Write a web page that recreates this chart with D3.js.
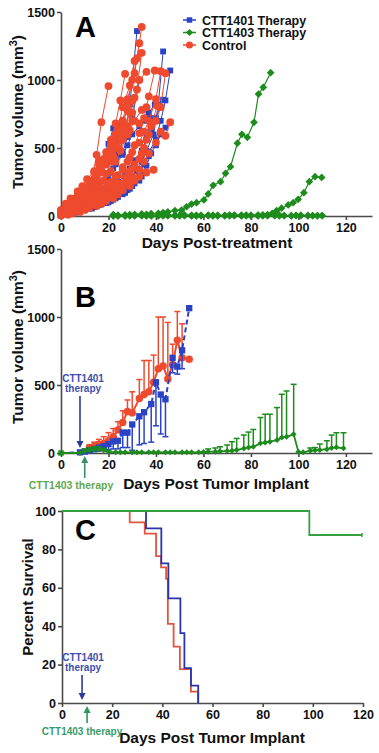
<!DOCTYPE html>
<html><head><meta charset="utf-8">
<script src="https://cdn.jsdelivr.net/npm/d3@7"></script>
<style>
body{margin:0;background:#fff}
svg{display:block}
text{font-family:"Liberation Sans",Arial,sans-serif;font-weight:bold}
</style>
</head><body><svg id="c" width="379" height="753"></svg>
<script>
// ---------------- DATA ----------------
const xTicks = [0,20,40,60,80,100,120];
const yTicksVol = [0,500,1000,1500];
const yTicksSurv = [0,20,40,60,80,100];
const legendLabels = ["CTT1401 Therapy","CTT1403 Therapy","Control"];
const therapyDay1401 = 8;
const therapyDay1403 = 10;

// Panel A individual mice: [day, volume]
const controlMice = [
 [[0,20],[2,40],[5,65],[7,90],[9,120],[12,150],[14,190],[16,240],[19,310],[21,400],[23,500],[26,650],[28,820],[30,1000],[32,1160],[34,1390]],
 [[0,30],[3,55],[5,85],[7,120],[10,160],[12,200],[14,250],[17,320],[19,400],[21,470],[24,580],[26,700],[28,860],[31,1050],[33,1270]],
 [[0,10],[2,25],[4,45],[7,70],[9,95],[11,130],[14,165],[16,210],[18,260],[21,330],[23,400],[25,480],[28,600],[30,760],[32,930],[34,1200]],
 [[0,25],[3,50],[5,80],[8,110],[10,150],[12,200],[15,260],[17,340],[19,420],[22,520],[24,640],[26,800],[29,960],[31,1140]],
 [[0,5],[2,30],[4,60],[6,100],[8,130],[11,190],[13,260],[15,450],[17,690],[20,955]],
 [[0,35],[2,70],[5,110],[7,150],[9,200],[12,260],[14,320],[16,400],[19,470],[21,560],[23,680],[25,850],[27,1045]],
 [[0,15],[3,30],[5,45],[8,60],[10,80],[12,100],[15,130],[17,160],[19,200],[22,250],[24,300],[26,360],[29,430],[31,520],[33,610],[35,720],[37,880],[39.5,1070]],
 [[0,20],[2,35],[5,50],[7,70],[9,90],[12,110],[14,140],[16,170],[19,210],[21,250],[23,290],[26,340],[28,400],[30,470],[33,540],[35,620],[37,700],[40,860],[42,1065]],
 [[0,5],[3,15],[5,30],[8,50],[10,70],[13,90],[15,110],[17,140],[20,170],[22,200],[24,240],[27,280],[29,330],[31,380],[34,460],[36,560],[38,660],[40.5,810]],
 [[0,15],[2,30],[5,45],[7,60],[9,75],[12,90],[14,110],[16,130],[19,150],[21,170],[23,190],[26,220],[28,250],[30,290],[33,340],[35,400],[37,460],[40,540],[42,620],[44,590],[46,690]],
 [[0,30],[3,60],[6,100],[8,140],[10,180],[13,230],[15,280],[17,350],[20,420],[22,500],[24,560],[27,650],[29,760],[31,870],[33,1000],[36,1060]],
 [[0,20],[2,45],[5,80],[7,120],[9,160],[12,210],[14,270],[16,340],[19,430],[21,520],[23,600],[26,700],[28,780],[30,850]],
 [[0,5],[3,10],[5,20],[8,30],[10,45],[12,60],[15,75],[17,90],[19,110],[22,130],[24,160],[26,190],[29,220],[31,260],[33,290],[36,320],[39,340]],
 [[0,25],[2,50],[4,80],[7,110],[9,150],[11,200],[14,260],[16,330],[18,400],[21,470],[23,540],[25,600],[28,660],[30,700],[33,680]],
 [[0,40],[3,80],[5,120],[8,160],[10,200],[12,240],[15,280],[17,330],[19,380],[22,440],[24,500],[26,560],[29,630],[31,700],[34,780],[36,800]],
 [[0,10],[2,20],[5,35],[7,50],[9,65],[12,80],[14,100],[16,120],[19,140],[21,170],[23,200],[26,240],[28,290],[30,350],[33,420],[35,500],[37,600],[40,700],[42,800],[44,1050]],
 [[0,45],[2,90],[4,130],[7,180],[9,220],[11,270],[14,330],[16,380],[18,420],[21,480],[23,520],[25,560],[28,600]]
];
const ctt1401Mice = [
 [[0,10],[3,25],[5,40],[8,60],[10,85],[13,110],[15,150],[17,200],[20,270],[22,350],[24,450],[27,600],[29,820],[32,1360]],
 [[0,5],[3,15],[6,25],[8,40],[11,55],[13,70],[15,90],[18,110],[20,130],[22,160],[25,190],[27,230],[29,270],[32,330],[34,400],[36,480],[39,600],[41,820],[43,1210]],
 [[0,10],[2,20],[5,30],[7,40],[9,50],[12,60],[14,80],[16,100],[19,120],[21,150],[23,180],[26,210],[28,250],[30,290],[33,340],[35,400],[37,470],[40,560],[42,700],[44,850],[46,1070]],
 [[0,15],[3,30],[5,45],[8,60],[10,80],[13,100],[15,120],[17,150],[20,180],[22,210],[24,250],[27,300],[29,350],[31,410],[34,480],[36,560],[38,620],[40,720],[43,855]],
 [[0,20],[2,40],[5,60],[7,80],[9,110],[12,140],[14,180],[16,220],[19,270],[21,320],[23,380],[26,450],[28,520],[30,600],[33,660],[35,700],[37,760],[39.5,820]],
 [[0,5],[3,10],[5,20],[8,35],[10,50],[13,65],[15,80],[17,100],[20,130],[22,160],[24,200],[27,250],[29,300],[31,360],[34,450],[36,580],[37.5,720]],
 [[0,10],[2,20],[5,30],[7,45],[9,60],[12,75],[14,90],[16,110],[19,130],[21,150],[23,170],[26,200],[28,230],[30,270],[33,320],[35,380],[37,440],[40,520],[42,600],[44,650]],
 [[0,20],[3,40],[5,70],[8,100],[10,140],[13,200],[15,270],[17,410],[20,530],[22,645],[24,680]],
 [[0,15],[2,30],[5,50],[7,75],[9,100],[12,130],[14,170],[16,210],[19,260],[21,320],[23,390],[26,470],[28,580],[30,720],[33,1000]],
 [[0,5],[3,15],[5,25],[8,35],[10,45],[13,55],[15,70],[17,85],[20,100],[22,120],[24,140],[27,170],[29,200],[31,240],[34,290],[36,370],[38,460]],
 [[0,10],[2,15],[5,25],[7,35],[9,45],[12,55],[14,65],[16,80],[19,95],[21,110],[23,130],[26,160],[28,190],[30,220],[33,260],[35,320]]
];
const ctt1403Mice = [
 [[22,10],[24,5],[27,8],[29,10],[31,12],[34,15],[36,12],[38,18],[41,20],[43,25],[45,30],[48,40],[50.8,44],[52.9,68],[55,88],[57.1,98],[60.2,118],[62,162],[64.1,226],[67.2,252],[69.3,314],[71.4,363],[74.3,535],[76.2,601],[78.5,579],[81.3,689],[83.2,897],[85.2,946],[88.3,1054]],
 [[22,0],[24,3],[27,2],[29,5],[31,3],[34,4],[36,2],[38,5],[41,3],[43,6],[45,4],[48,5],[50,3],[52,6],[55,4],[57,5],[59,3],[62,6],[64,4],[66,5],[69,3],[71,6],[73,5],[76,4],[78,6],[80,5],[83,7],[85,8],[87,10],[89,20],[90.8,39],[92.9,57],[95.7,81],[97.8,98],[99.9,123],[102.3,171],[104.6,252],[107,289],[109.8,284]]
];
const flatDays = [22,24,27,29,31,34,36,38,41,43,45,48,50,52,55,57,59,62,64,66,69,71,73,76,78,80,83,85,87,90,92,94,97,99,101,104,106,108,110];
const flatVolsA = [2,0,3,1,4,2,3,0,2,5,3,1,4,2,3,0,2,4,1,3,2,5,3,1,2,4,0,3,2,5,1,3,2,4,3,1,2,3,2];
const flatVolsB = [5,3,1,4,2,6,3,2,5,1,4,3,2,6,1,3,5,2,4,1,3,2,6,4,3,1,5,2,4,3,6,2,1,3,5,4,2,1,3];

// Panel B group means
const ctrlDays  = [12,14,16,18,20,22,24,26,28,30,33,35,37,39,41,43,45,47,49,51,54];
const ctrlMean  = [40,50,65,70,90,120,170,225,305,295,400,430,450,520,620,640,545,650,830,700,690];
const ctrlUpper = [60,80,100,120,150,180,230,310,390,450,540,680,680,720,1000,1000,960,800,1040,950,null];
const t1401Days  = [0,8,10,12,14,16,18,20,22,24,26,28,30,33,35,38,40,42,44,47,49,51,54];
const t1401Mean  = [0,5,10,20,30,40,50,65,85,90,150,150,210,270,300,360,520,430,395,700,635,755,1065];
const t1401Lower = [null,null,null,5,10,15,20,25,30,30,40,40,20,60,70,80,200,140,120,590,580,620,null];
const t1403Days  = [0,8,10,12,14,16,18,20,23,25,27,30,32,34,37,39,41,44,46,48,51,53,55,58,60,62,65,67,70,72,74,77,79,81,84,86,88,91,93,95,98,100,102,105,107,109,112,114,116,119];
const t1403Mean  = [0,0,15,20,25,25,20,10,5,5,5,5,5,5,5,5,5,5,5,5,5,5,5,5,8,10,10,12,15,17,22,34,41,46,71,78,83,95,114,119,137,10,5,17,20,22,28,37,42,35];
const t1403Upper = [null,null,30,40,45,45,35,15,null,null,null,null,null,null,null,null,null,null,null,null,null,null,null,null,null,30,37,46,59,83,107,132,154,173,261,285,285,334,432,456,505,null,null,37,40,66,90,132,149,149];

// Panel C survival (Kaplan-Meier): [day, percent]
const survCtrl = [[0,100],[27,94.1],[33,88.2],[37.5,76.5],[39.5,70.6],[41.5,64.7],[42.2,41.2],[44.5,29.4],[47,17.6],[51.4,5.9],[54.3,0]];
const surv1401 = [[0,100],[33.5,90.9],[39.6,72.7],[42.4,54.5],[47.2,36.4],[48.8,18.2],[51.4,9.1],[54.3,0]];
const surv1403 = [[0,100],[98.6,87.5],[119.6,87.5]];

// ---------------- STYLE ----------------
const BLUE="#2a43c6", GREEN="#1d8c1d", RED="#ee4a2e";
const svg = d3.select("#c");

function axes(x, y, xt, yt, yAxisX, xAxisY) {
  const gx = svg.append("g").attr("transform",`translate(0,${xAxisY})`)
    .call(d3.axisBottom(x).tickValues(xt).tickFormat(d3.format("d")).tickSize(4).tickSizeOuter(0).tickPadding(3));
  const gy = svg.append("g").attr("transform",`translate(${yAxisX},0)`)
    .call(d3.axisLeft(y).tickValues(yt).tickFormat(d3.format("d")).tickSize(4).tickSizeOuter(0).tickPadding(2));
  [gx,gy].forEach(g=>{
    g.selectAll("path,line").attr("stroke","#4a4a4a").attr("stroke-width",1.6);
    g.selectAll("text").attr("fill","#111").style("font-size","12.5px").style("font-weight","bold")
      .style("font-family","'Liberation Sans',Arial,sans-serif");
  });
  return [gx,gy];
}
const sym = (type,size)=>d3.symbol().type(type).size(size)();
function drawMarkers(g, pts, x, y, kind, color, sz) {
  g.selectAll(null).data(pts).enter().append("path")
   .attr("d", kind==="circle"?sym(d3.symbolCircle,sz):sym(d3.symbolSquare,sz))
   .attr("transform", d=>`translate(${x(d[0])},${y(d[1])})`+(kind==="diamond"?" rotate(45)":""))
   .attr("fill",color);
}

// ---------------- PANEL A ----------------
const xA = d3.scaleLinear().domain([0,131]).range([61,372]);
const yA = d3.scaleLinear().domain([0,1500]).range([216,12]);
axes(xA,yA,xTicks,yTicksVol,61,216);
const lineA = d3.line().x(d=>xA(d[0])).y(d=>yA(d[1]));
const gA = svg.append("g");
const flatMice = [flatDays.map((d,i)=>[d,flatVolsA[i]]), flatDays.map((d,i)=>[d,flatVolsB[i]])];
[...flatMice, ...ctt1403Mice].forEach(m=>{
  gA.append("path").attr("d",lineA(m)).attr("fill","none").attr("stroke",GREEN).attr("stroke-width",1.2);
  drawMarkers(gA,m,xA,yA,"diamond",GREEN,30);
});
ctt1401Mice.forEach(m=>{
  gA.append("path").attr("d",lineA(m)).attr("fill","none").attr("stroke",BLUE).attr("stroke-width",1);
  drawMarkers(gA,m,xA,yA,"square",BLUE,34);
});
controlMice.forEach(m=>{
  gA.append("path").attr("d",lineA(m)).attr("fill","none").attr("stroke",RED).attr("stroke-width",1);
  drawMarkers(gA,m,xA,yA,"circle",RED,48);
});
// legend
const legColors=[BLUE,GREEN,RED], legKinds=["square","diamond","circle"];
legendLabels.forEach((lab,i)=>{
  const yy = 20 + i*12.5;
  svg.append("line").attr("x1",183).attr("x2",196).attr("y1",yy).attr("y2",yy).attr("stroke",legColors[i]).attr("stroke-width",1.5);
  svg.append("path").attr("d", legKinds[i]==="circle"?sym(d3.symbolCircle,40):sym(d3.symbolSquare,legKinds[i]==="diamond"?26:30))
    .attr("transform",`translate(189.5,${yy})`+(legKinds[i]==="diamond"?" rotate(45)":"")).attr("fill",legColors[i]);
  svg.append("text").attr("x",202).attr("y",yy+4.5).style("font-size","12.5px").attr("fill","#111").text(lab);
});
svg.append("text").attr("x",75).attr("y",37).style("font-size","29px").attr("fill","#000").text("A");
svg.append("text").attr("transform","translate(23,112) rotate(-90)").attr("text-anchor","middle")
  .style("font-size","15.5px").attr("fill","#111")
  .call(t=>{t.append("tspan").text("Tumor volume (mm");t.append("tspan").attr("dy",-6).style("font-size","11px").text("3");t.append("tspan").attr("dy",6).text(")");});
svg.append("text").attr("x",217).attr("y",248).attr("text-anchor","middle").style("font-size","15.5px").attr("fill","#111").text("Days Post-treatment");

// ---------------- PANEL B ----------------
const xB = d3.scaleLinear().domain([0,131]).range([61,372]);
const yB = d3.scaleLinear().domain([0,1500]).range([453,249]);
axes(xB,yB,xTicks,yTicksVol,61,453);
const gB = svg.append("g");
const lineB = d3.line().x(d=>xB(d[0])).y(d=>yB(d[1]));
function errBars(days, mean, bound, color, w) {
  days.forEach((d,i)=>{
    if (bound[i]==null) return;
    const x = xB(d);
    gB.append("line").attr("x1",x).attr("x2",x).attr("y1",yB(mean[i])).attr("y2",yB(bound[i])).attr("stroke",color).attr("stroke-width",w);
    gB.append("line").attr("x1",x-3).attr("x2",x+3).attr("y1",yB(bound[i])).attr("y2",yB(bound[i])).attr("stroke",color).attr("stroke-width",w);
  });
}
const ctrlPts = ctrlDays.map((d,i)=>[d,ctrlMean[i]]);
const t1401Pts = t1401Days.map((d,i)=>[d,t1401Mean[i]]);
const t1403Pts = t1403Days.map((d,i)=>[d,t1403Mean[i]]);
errBars(ctrlDays,ctrlMean,ctrlUpper,RED,1.5);
gB.append("path").attr("d",lineB(ctrlPts)).attr("fill","none").attr("stroke",RED).attr("stroke-width",2);
drawMarkers(gB,ctrlPts,xB,yB,"circle",RED,44);
errBars(t1401Days,t1401Mean,t1401Lower,BLUE,1.5);
gB.append("path").attr("d",lineB(t1401Pts)).attr("fill","none").attr("stroke",BLUE).attr("stroke-width",2).attr("stroke-dasharray","5,3");
drawMarkers(gB,t1401Pts.slice(1),xB,yB,"square",BLUE,40);
errBars(t1403Days,t1403Mean,t1403Upper,GREEN,1.5);
gB.append("path").attr("d",lineB(t1403Pts)).attr("fill","none").attr("stroke",GREEN).attr("stroke-width",1.8);
drawMarkers(gB,t1403Pts.slice(1),xB,yB,"diamond",GREEN,18);
drawMarkers(gB,[t1403Pts[0]],xB,yB,"square",GREEN,30);

svg.append("text").attr("x",75).attr("y",307).style("font-size","29px").attr("fill","#000").text("B");
svg.append("text").attr("transform","translate(23,347) rotate(-90)").attr("text-anchor","middle")
  .style("font-size","15.5px").attr("fill","#111")
  .call(t=>{t.append("tspan").text("Tumor volume (mm");t.append("tspan").attr("dy",-6).style("font-size","11px").text("3");t.append("tspan").attr("dy",6).text(")");});
svg.append("text").attr("x",216).attr("y",489).attr("text-anchor","middle").style("font-size","15.5px").attr("fill","#111").text("Days Post Tumor Implant");

function arrow(x, yFrom, yTo, color) {
  const dir = yTo>yFrom?1:-1;
  svg.append("line").attr("x1",x).attr("x2",x).attr("y1",yFrom).attr("y2",yTo-dir*6).attr("stroke",color).attr("stroke-width",1.6);
  svg.append("path").attr("d",`M${x-3.5},${yTo-dir*7}L${x+3.5},${yTo-dir*7}L${x},${yTo}Z`).attr("fill",color);
}
const NAVY="#2b3a9c", LBLUE="#3d4fae";
svg.append("text").attr("x",83).attr("y",382).attr("text-anchor","middle").style("font-size","10px").attr("fill",LBLUE).text("CTT1401");
svg.append("text").attr("x",83).attr("y",392).attr("text-anchor","middle").style("font-size","10px").attr("fill",LBLUE).text("therapy");
arrow(xB(therapyDay1401),396,448,NAVY);
arrow(xB(therapyDay1403),478,456,"#3a8f63");
svg.append("text").attr("x",71).attr("y",489).attr("text-anchor","middle").style("font-size","10.5px").attr("fill","#63a84e").text("CTT1403 therapy");

// ---------------- PANEL C ----------------
const xC = d3.scaleLinear().domain([0,120]).range([62,363]);
const yC = d3.scaleLinear().domain([0,100]).range([703,511]);
axes(xC,yC,xTicks,yTicksSurv,62,703);
const stepC = d3.line().curve(d3.curveStepAfter).x(d=>xC(d[0])).y(d=>yC(d[1]));
svg.append("path").attr("d",stepC(survCtrl)).attr("fill","none").attr("stroke","#e2553a").attr("stroke-width",1.8);
svg.append("path").attr("d",stepC(surv1401)).attr("fill","none").attr("stroke","#2a36a8").attr("stroke-width",1.8);
svg.append("path").attr("d",stepC(surv1403)).attr("fill","none").attr("stroke","#35a040").attr("stroke-width",1.8);
const lastG = surv1403[surv1403.length-1];
svg.append("line").attr("x1",xC(lastG[0])).attr("x2",xC(lastG[0])).attr("y1",yC(lastG[1])-2).attr("y2",yC(lastG[1])+2).attr("stroke","#35a040").attr("stroke-width",1.5);

svg.append("text").attr("x",75).attr("y",540).style("font-size","29px").attr("fill","#000").text("C");
svg.append("text").attr("transform","translate(33,597) rotate(-90)").attr("text-anchor","middle")
  .style("font-size","15px").attr("fill","#111").text("Percent Survival");
svg.append("text").attr("x",212).attr("y",743).attr("text-anchor","middle").style("font-size","15.5px").attr("fill","#111").text("Days Post Tumor Implant");
svg.append("text").attr("x",83).attr("y",661).attr("text-anchor","middle").style("font-size","10px").attr("fill",LBLUE).text("CTT1401");
svg.append("text").attr("x",83).attr("y",671).attr("text-anchor","middle").style("font-size","10px").attr("fill",LBLUE).text("therapy");
arrow(xC(therapyDay1401),675,700,NAVY);
arrow(xC(therapyDay1403),723,706,"#2f9a55");
svg.append("text").attr("x",82).attr("y",735).attr("text-anchor","middle").style("font-size","10px").attr("fill","#3a9a6a").text("CTT1403 therapy");
</script></body></html>
